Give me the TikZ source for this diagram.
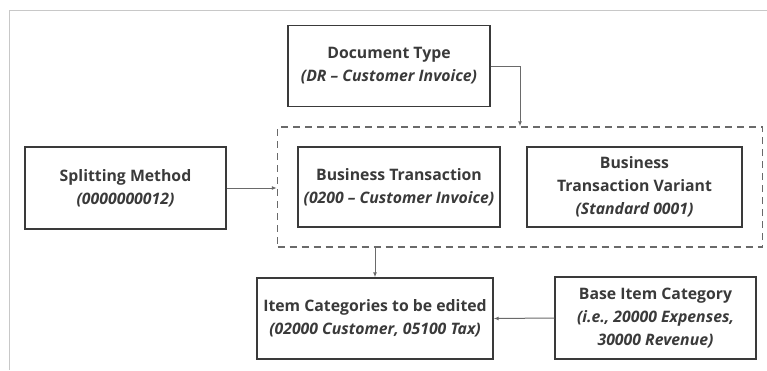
\documentclass[tikz,border=0pt]{standalone}
\usepackage{fontspec}
\setmainfont{Open Sans}
\usetikzlibrary{arrows.meta}
\definecolor{boxgray}{HTML}{3A3A3A}
\definecolor{linegray}{HTML}{6A6A6A}
\definecolor{framegray}{HTML}{C8C8C8}
\begin{document}
\begin{tikzpicture}[x=1pt, y=-1pt,
  every node/.style={draw=boxgray, line width=1.4pt, rectangle, align=center, text=boxgray,
    font=\fontsize{15.8}{23}\selectfont\bfseries, inner sep=0pt},
  dashed group/.style={draw=linegray, line width=1.4pt, dash pattern=on 7pt off 5pt},
  solid edge/.style={draw=linegray, line width=1pt, -{Latex[length=5pt,width=4pt]}}
]
\useasboundingbox (0,0) rectangle (767,370);
% outer frame
\draw[framegray, line width=1pt] (9,370) -- (9,10) -- (767,10);
% Define the nodes
\node[minimum width=202pt, minimum height=81pt] (doc) at (389,66) {Document Type\\\textit{(DR -- Customer Invoice)}};
\node[minimum width=201pt, minimum height=82pt] (split) at (125.5,188) {Splitting Method\\\textit{(0000000012)}};
\node[dashed group, minimum width=485pt, minimum height=120pt] (group) at (520,187) {};
\node[minimum width=202pt, minimum height=80pt] (bt) at (399,187) {Business Transaction\\\textit{(0200 -- Customer Invoice)}};
\node[minimum width=215pt, minimum height=80pt] (btv) at (634.5,187) {Business\\Transaction Variant\\\textit{(Standard 0001)}};
\node[minimum width=236pt, minimum height=81pt] (item) at (375,318.5) {Item Categories to be edited\\\textit{(02000 Customer, 05100 Tax)}};
\node[minimum width=201pt, minimum height=82pt] (base) at (655.5,318) {Base Item Category\\\textit{(i.e., 20000 Expenses,}\\\textit{30000 Revenue)}};
% Define the edges
\path[solid edge] (doc.east) -| (group.north);
\path[solid edge] (split.east) -- (split.east -| group.west);
\path[solid edge] (item.north |- group.south) -- (item.north);
\path[solid edge] (base.west) -- (item.east);
\end{tikzpicture}
\end{document}
